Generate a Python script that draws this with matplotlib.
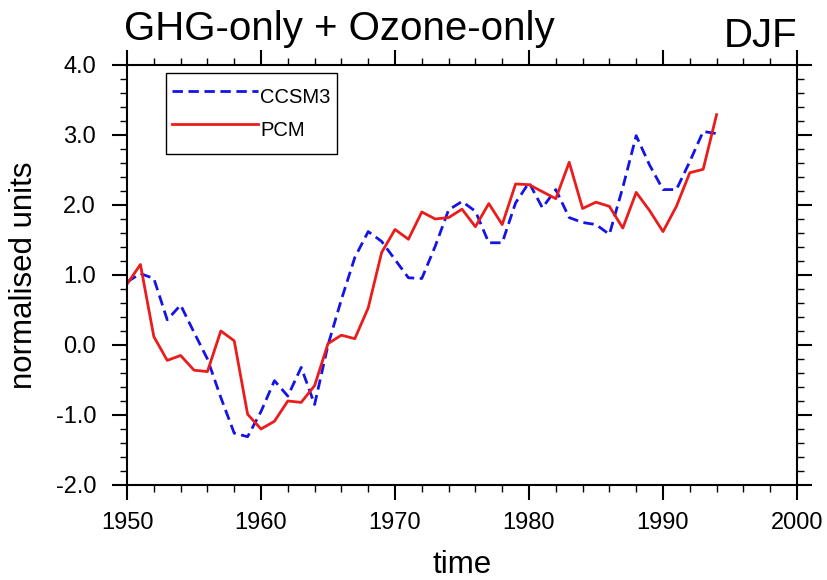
import matplotlib
matplotlib.use("Agg")
import matplotlib.pyplot as plt
from matplotlib.ticker import MultipleLocator
import numpy as np

plt.rcParams['font.family'] = ['Liberation Sans', 'DejaVu Sans']
plt.rcParams['axes.unicode_minus'] = False
plt.rcParams['lines.scale_dashes'] = False

# DJF normalised index, 1950-1994
years = np.arange(1950, 1995)

ccsm3 = [0.90, 1.02, 0.95, 0.36, 0.57, 0.18, -0.20, -0.75, -1.26, -1.31,
         -0.95, -0.51, -0.73, -0.32, -0.85, 0.00, 0.65, 1.25, 1.62, 1.48,
         1.22, 0.96, 0.95, 1.41, 1.93, 2.05, 1.91, 1.46, 1.46, 2.03,
         2.32, 1.96, 2.22, 1.82, 1.75, 1.72, 1.58, 2.25, 2.99, 2.57,
         2.22, 2.22, 2.62, 3.05, 3.02]

pcm = [0.87, 1.15, 0.12, -0.22, -0.15, -0.36, -0.38, 0.20, 0.06, -0.99,
       -1.20, -1.09, -0.80, -0.82, -0.58, 0.02, 0.14, 0.09, 0.53, 1.32,
       1.65, 1.51, 1.90, 1.80, 1.82, 1.94, 1.69, 2.02, 1.72, 2.30,
       2.29, 2.19, 2.09, 2.61, 1.95, 2.04, 1.98, 1.67, 2.18, 1.92,
       1.62, 1.98, 2.46, 2.51, 3.29]

xticks = [1950, 1960, 1970, 1980, 1990, 2000]
yticks = [-2.0, -1.0, 0.0, 1.0, 2.0, 3.0, 4.0]
ytick_labels = ['-2.0', '-1.0', '0.0', '1.0', '2.0', '3.0', '4.0']

fig = plt.figure(figsize=(8.27, 5.8), dpi=100)
ax = fig.add_axes([0.1536, 0.1638, 0.8101, 0.7242])

ax.plot(years, ccsm3, color='#1414e6', lw=2.0, dashes=(7.5, 4), label='CCSM3')
ax.plot(years, pcm, color='#ea1c1c', lw=2.0, label='PCM')

ax.set_xlim(1950, 2000)
ax.set_ylim(-2.0, 4.0)
ax.set_xticks(xticks)
ax.set_xticklabels([str(x) for x in xticks])
ax.set_yticks(yticks)
ax.set_yticklabels(ytick_labels)
ax.xaxis.set_minor_locator(MultipleLocator(2))
ax.yaxis.set_minor_locator(MultipleLocator(0.2))

for s in ax.spines.values():
    s.set_linewidth(1.5)

# all ticks point outward, on every side
ax.tick_params(which='major', direction='out', length=10.8, width=1.5,
               top=True, right=True, labelsize=17)
ax.tick_params(which='minor', direction='out', length=5, width=1.0,
               top=True, right=True)
ax.tick_params(axis='x', which='major', pad=8.3)
ax.tick_params(axis='y', which='major', pad=11.5)

ax.set_xlabel('time', fontsize=22.5)
ax.xaxis.set_label_coords(0.5, -0.155)
ax.set_ylabel('normalised units', fontsize=22.5)
ax.yaxis.set_label_coords(-0.131, 0.5)

ax.text(-0.005, 1.0594, 'GHG-only + Ozone-only', transform=ax.transAxes,
        ha='left', va='baseline', fontsize=29)
ax.text(1.0, 1.0428, 'DJF', transform=ax.transAxes,
        ha='right', va='baseline', fontsize=29)

# tall rows with a thin border keep the box narrow but high
leg = ax.legend(loc='upper left', bbox_to_anchor=(0.0578, 0.9817),
                borderaxespad=0, fontsize=14.5, handlelength=4.3,
                handleheight=2.35, handletextpad=0.1, labelspacing=-0.1,
                borderpad=0.3, fancybox=False, framealpha=1)
leg.get_frame().set_edgecolor('black')
leg.get_frame().set_linewidth(1.0)

fig.savefig('out.png', dpi=100)
